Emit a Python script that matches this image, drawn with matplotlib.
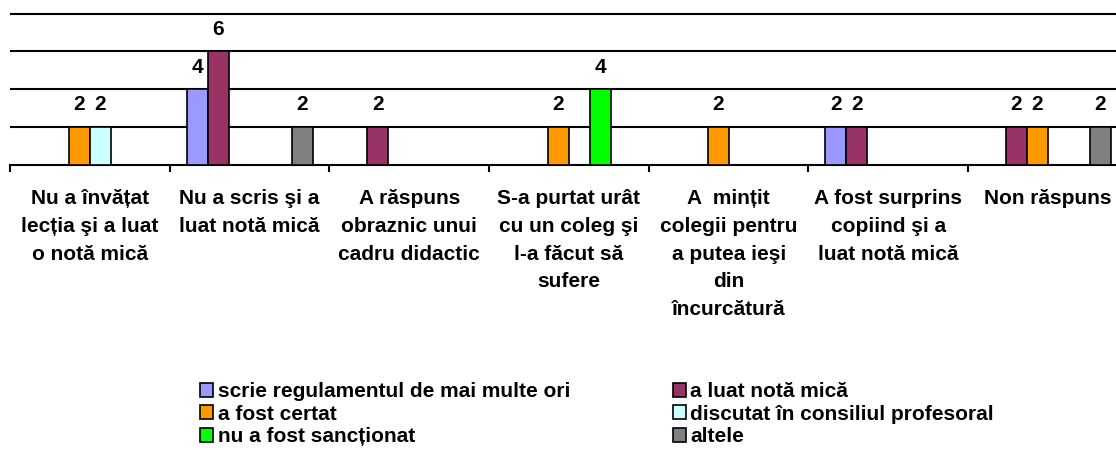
import numpy as np
import matplotlib
matplotlib.use("Agg")
import matplotlib.pyplot as plt
from matplotlib.patches import Patch

plt.rcParams['font.family'] = ['Liberation Sans', 'DejaVu Sans']
plt.rcParams['font.weight'] = 'bold'

categories = [
    "Nu a învățat\nlecția şi a luat\no notă mică",
    "Nu a scris şi a\nluat notă mică",
    "A răspuns\nobraznic unui\ncadru didactic",
    "S-a purtat urât\ncu un coleg şi\nl-a făcut să\nsufere",
    "A  mințit\ncolegii pentru\na putea ieşi\ndin\nîncurcătură",
    "A fost surprins\ncopiind şi a\nluat notă mică",
    "Non răspuns",
]

series_names = [
    "scrie regulamentul de mai multe ori",
    "a luat notă mică",
    "a fost certat",
    "discutat în consiliul profesoral",
    "nu a fost sancționat",
    "altele",
]
scrie_regulamentul = [0, 4, 0, 0, 0, 2, 0]
nota_mica = [0, 6, 2, 0, 0, 2, 2]
certat = [2, 0, 0, 2, 2, 0, 2]
consiliu = [2, 0, 0, 0, 0, 0, 0]
nesanctionat = [0, 0, 0, 4, 0, 0, 0]
altele = [0, 2, 0, 0, 0, 0, 2]
series_values = [scrie_regulamentul, nota_mica, certat, consiliu, nesanctionat, altele]
colors = ["#9999FF", "#993366", "#FF9900", "#CCFFFF", "#00FF00", "#808080"]

W, H = 1116, 450
fig = plt.figure(figsize=(W / 100, H / 100), dpi=100)
cat_px = 159.7
ax_left = 10
ax_bottom = 165
unit_px = (165 - 13.5) / 8
ymax = 8.06
ax = fig.add_axes([ax_left / W, 1 - ax_bottom / H, 7 * cat_px / W, ymax * unit_px / H])

x = np.arange(len(categories))
bw = 21 / cat_px
for i, (vals, c) in enumerate(zip(series_values, colors)):
    vals = np.asarray(vals, dtype=float)
    m = vals > 0
    xs = x[m] + (i - 2.5) * bw
    ax.bar(xs, vals[m], width=bw, color=c, edgecolor='black', linewidth=1.2, zorder=3)
    for xi, v in zip(xs, vals[m]):
        ax.annotate(f"{int(v)}", xy=(xi, v), xytext=(0, 12), textcoords='offset points',
                    ha='center', va='baseline', fontsize=15, fontweight='bold')

ax.set_xlim(-0.5, 6.5)
ax.set_ylim(0, ymax)
ax.set_yticks([2, 4, 6, 8])
ax.yaxis.grid(True, color='black', linewidth=1.5, zorder=0)
ax.set_axisbelow(True)
ax.tick_params(axis='y', length=0, labelleft=False)
ax.set_xticks(np.arange(-0.5, 7.0, 1.0))
ax.set_xticklabels([])
ax.tick_params(axis='x', direction='out', length=5, width=1.5, color='black')
for s in ['left', 'right', 'top']:
    ax.spines[s].set_visible(False)
ax.spines['bottom'].set_linewidth(1.5)

for xi, lab in zip(x, categories):
    ax.annotate(lab, xy=(xi, 0), xycoords=('data', 'axes fraction'), xytext=(0, -17.5),
                textcoords='offset points', ha='center', va='top', fontsize=15,
                fontweight='bold', linespacing=1.58, annotation_clip=False)

order = [0, 2, 4, 1, 3, 5]
handles = [Patch(facecolor=colors[k], edgecolor='black', linewidth=1.2) for k in order]
labels = [series_names[k] for k in order]
fig.legend(handles, labels, loc='upper left', bbox_to_anchor=(200 / W, 1 - 382 / H),
           ncol=2, frameon=False, fontsize=15, borderpad=0, borderaxespad=0,
           handlelength=0.64, handleheight=0.64, handletextpad=0.2,
           columnspacing=4.95, labelspacing=0.17, prop={'weight': 'bold', 'size': 15})

fig.savefig("out.png", dpi=100)
